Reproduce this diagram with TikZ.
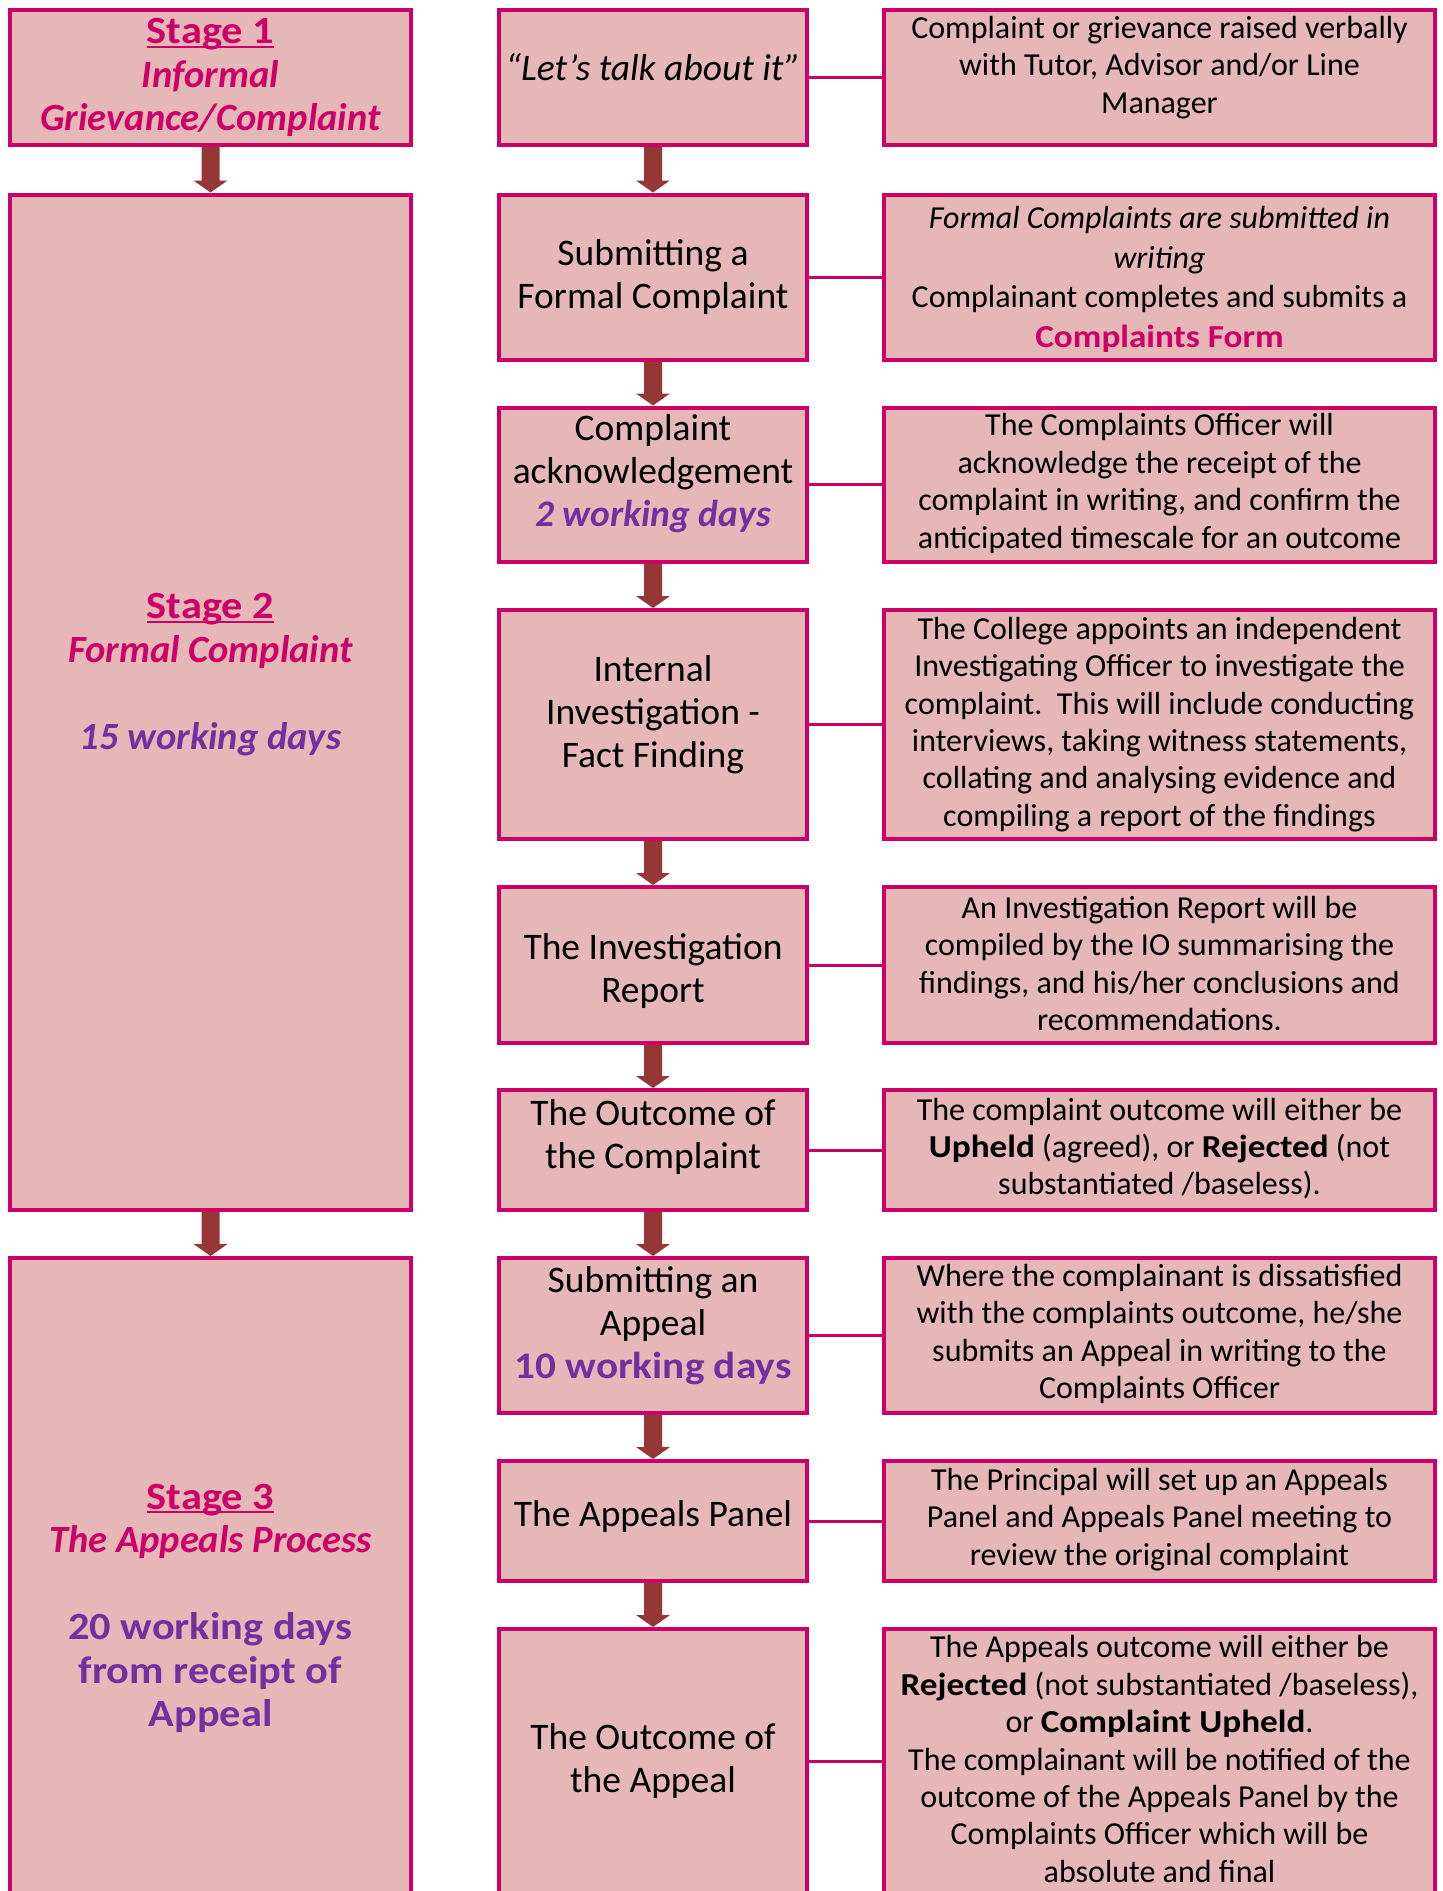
\documentclass[tikz,border=0pt]{standalone}
\usepackage{fontspec}
\setmainfont{Carlito}[BoldFeatures={FakeStretch=1.1}]
\usetikzlibrary{calc}
\definecolor{boxfill}{HTML}{E5B7B7}
\definecolor{boxline}{HTML}{CC0066}
\definecolor{arrowc}{HTML}{953735}
\definecolor{purp}{HTML}{7030A0}
\definecolor{mag}{HTML}{CC0066}
\newcommand\myul[1]{\setbox0\hbox{#1}\rlap{\rule[-4pt]{\wd0}{2pt}}\box0}
\newcommand\blockarrow[2]{\fill[arrowc] ($(#1.south)+(-9,0)$) -- ($(#2.north)+(-9,-12)$) -- ($(#2.north)+(-17,-12)$) -- (#2.north) -- ($(#2.north)+(17,-12)$) -- ($(#2.north)+(9,-12)$) -- ($(#1.south)+(9,0)$) -- cycle;}
\tikzset{
  box/.style={draw=boxline, fill=boxfill, line width=4pt, rectangle, inner sep=0pt},
  lbox/.style={box, minimum width=401pt},
  mbox/.style={box, minimum width=308pt},
  rbox/.style={box, minimum width=551pt},
  conn/.style={draw=boxline, line width=3pt},
  ltext/.style={inner sep=0pt, align=center, font=\fontsize{38.5}{43.5}\selectfont\bfseries},
  mtext/.style={inner sep=0pt, align=center, font=\fontsize{37.5}{43}\selectfont},
  rtext/.style={inner sep=0pt, align=center, font=\fontsize{32}{37.4}\selectfont},
}
\begin{document}
\begin{tikzpicture}[x=1pt,y=-1pt]
\useasboundingbox (0,0) rectangle (1443,1891);
\clip (0,0) rectangle (1443,1891);
% left column
\node[lbox, minimum height=135pt] (L1) at (210.5,77.5) {};
\node[lbox, minimum height=1015.5pt] (L2) at (210.5,702.25) {};
\node[lbox, minimum height=636pt] (L3) at (210.5,1576) {};
% middle column
\node[mbox, minimum height=135pt] (M1) at (653,77.5) {};
\node[mbox, minimum height=165.5pt] (M2) at (653,277.25) {};
\node[mbox, minimum height=154.5pt] (M3) at (653,484.75) {};
\node[mbox, minimum height=229pt] (M4) at (653,724.5) {};
\node[mbox, minimum height=156pt] (M5) at (653,965) {};
\node[mbox, minimum height=120pt] (M6) at (653,1150) {};
\node[mbox, minimum height=155pt] (M7) at (653,1335.5) {};
\node[mbox, minimum height=120pt] (M8) at (653,1521) {};
\node[mbox, minimum height=265pt] (M9) at (653,1761.5) {};
% right column
\node[rbox, minimum height=135pt] (R1) at (1159.5,77.5) {};
\node[rbox, minimum height=165.5pt] (R2) at (1159.5,277.25) {};
\node[rbox, minimum height=154.5pt] (R3) at (1159.5,484.75) {};
\node[rbox, minimum height=229pt] (R4) at (1159.5,724.5) {};
\node[rbox, minimum height=156pt] (R5) at (1159.5,965) {};
\node[rbox, minimum height=120pt] (R6) at (1159.5,1150) {};
\node[rbox, minimum height=155pt] (R7) at (1159.5,1335.5) {};
\node[rbox, minimum height=120pt] (R8) at (1159.5,1521) {};
\node[rbox, minimum height=265pt] (R9) at (1159.5,1761.5) {};
% connectors
\foreach \i in {1,...,9} { \draw[conn] (M\i.east) -- (R\i.west); }
% arrows
\blockarrow{L1}{L2}
\blockarrow{L2}{L3}
\foreach \a/\b in {1/2,2/3,3/4,4/5,5/6,6/7,7/8,8/9} { \blockarrow{M\a}{M\b} }
% left texts
\node[ltext, text=mag] (TL1) at (210.5,77.5) {\myul{Stage 1}\\ \itshape Informal\\ \itshape Grievance/Complaint};
\node[ltext] (TL2) at (210.5,674.5) {\textcolor{mag}{\myul{Stage 2}}\\ \textcolor{mag}{\itshape Formal Complaint}\\[43.5pt] \textcolor{purp}{\itshape 15 working days}};
\node[ltext] (TL3) at (210.5,1608.5) {\textcolor{mag}{\myul{Stage 3}}\\ \textcolor{mag}{\itshape The Appeals Process}\\[43.5pt] \textcolor{purp}{20 working days}\\ \textcolor{purp}{from receipt of}\\ \textcolor{purp}{Appeal}};
% middle texts
\node[mtext] (TM1) at (653,67) {\itshape “Let’s talk about it”};
\node[mtext] (TM2) at (653,277) {Submitting a\\ Formal Complaint};
\node[mtext] (TM3) at (653,474) {Complaint\\ acknowledgement\\ \textcolor{purp}{\bfseries\itshape 2 working days}};
\node[mtext] (TM4) at (653,714.5) {Internal\\ Investigation -\\ Fact Finding};
\node[mtext] (TM5) at (653,971) {The Investigation\\ Report};
\node[mtext] (TM6) at (653,1136.5) {The Outcome of\\ the Complaint};
\node[mtext] (TM7) at (653,1325.5) {Submitting an\\ Appeal\\ \textcolor{purp}{\bfseries 10 working days}};
\node[mtext] (TM8) at (653,1516) {The Appeals Panel};
\node[mtext] (TM9) at (653,1761) {The Outcome of\\ the Appeal};
% right texts
\node[rtext] (TR1) at (1159.5,67.5) {Complaint or grievance raised verbally\\ with Tutor, Advisor and/or Line\\ Manager};
\node[rtext, font=\fontsize{32}{39.5}\selectfont] (TR2) at (1159.5,279.5) {{\itshape Formal Complaints are submitted in}\\ {\itshape writing}\\ Complainant completes and submits a\\ \textcolor{mag}{\bfseries Complaints Form}};
\node[rtext] (TR3) at (1159.5,483.5) {The Complaints Officer will\\ acknowledge the receipt of the\\ complaint in writing, and confirm the\\ anticipated timescale for an outcome};
\node[rtext] (TR4) at (1159.5,724.5) {The College appoints an independent\\ Investigating Officer to investigate the\\ complaint.\ \ This will include conducting\\ interviews, taking witness statements,\\ collating and analysing evidence and\\ compiling a report of the findings};
\node[rtext] (TR5) at (1159.5,963.5) {An Investigation Report will be\\ compiled by the IO summarising the\\ findings, and his/her conclusions and\\ recommendations.};
\node[rtext] (TR6) at (1159.5,1148.5) {The complaint outcome will either be\\ \textbf{Upheld} (agreed), or \textbf{Rejected} (not\\ substantiated /baseless).};
\node[rtext] (TR7) at (1159.5,1334) {Where the complainant is dissatisfied\\ with the complaints outcome, he/she\\ submits an Appeal in writing to the\\ Complaints Officer};
\node[rtext] (TR8) at (1159.5,1519.5) {The Principal will set up an Appeals\\ Panel and Appeals Panel meeting to\\ review the original complaint};
\node[rtext] (TR9) at (1159.5,1759) {The Appeals outcome will either be\\ \textbf{Rejected} (not substantiated /baseless),\\ or \textbf{Complaint Upheld}.\\ The complainant will be notified of the\\ outcome of the Appeals Panel by the\\ Complaints Officer which will be\\ absolute and final};
\end{tikzpicture}
\end{document}
